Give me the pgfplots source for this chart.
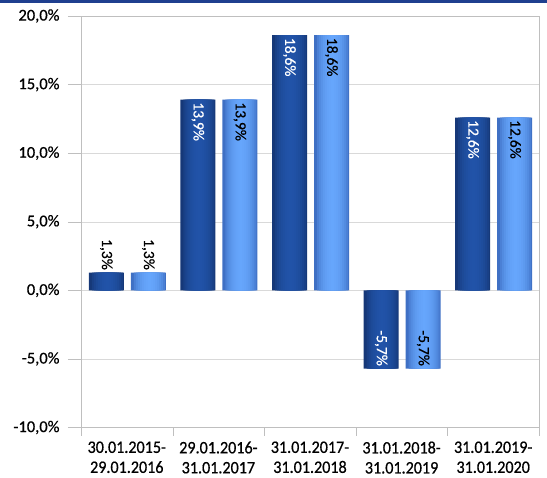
\documentclass[border=0pt]{standalone}
\usepackage{pgfplots}
\pgfplotsset{compat=1.18}
\usepackage{fontspec}
\setmainfont{Carlito}
\font\ylabfont="Carlito:embolden=0.6" at 16.5bp
\font\xlabfont="Carlito:embolden=0.6;extend=0.92" at 17.5bp
\font\dlabfont="Carlito:embolden=0.6" at 15.5bp
\definecolor{band}{HTML}{1F3F8F}
\definecolor{dEdge}{HTML}{163878}
\definecolor{dMid}{HTML}{2153A8}
\definecolor{lEdge}{HTML}{3F70C4}
\definecolor{lMid}{HTML}{66A6FC}
\definecolor{gridc}{HTML}{D9D9D9}
\definecolor{axc}{HTML}{BFBFBF}

\pgfplotsset{
  lay/.style={ybar, draw=none},
  lab/.style n args={3}{draw=none, mark=none,
    nodes near coords={\pgfmathprintnumber[fixed,fixed zerofill,precision=1,use comma]{\pgfplotspointmeta}\%},
    every node near coord/.append style={xshift=#1, rotate=-90, anchor=#2, text=#3, inner sep=2.5bp, font=\dlabfont}},
}
% #1 edge colour, #2 centre colour, #3 shift (outer), #4 shift (inner), #5 coordinates
\newcommand\layers[5]{%
  \addplot[lay, bar shift=#3, bar width=35bp, fill=#1] coordinates {#5};
  \addplot[lay, bar shift=#4, bar width=31bp, fill=#2!30!#1] coordinates {#5};
  \addplot[lay, bar shift=#4, bar width=27bp, fill=#2!50!#1] coordinates {#5};
  \addplot[lay, bar shift=#4, bar width=23bp, fill=#2!65!#1] coordinates {#5};
  \addplot[lay, bar shift=#4, bar width=19bp, fill=#2!77!#1] coordinates {#5};
  \addplot[lay, bar shift=#4, bar width=15bp, fill=#2!86!#1] coordinates {#5};
  \addplot[lay, bar shift=#4, bar width=11bp, fill=#2!93!#1] coordinates {#5};
  \addplot[lay, bar shift=#4, bar width=7bp, fill=#2!97!#1] coordinates {#5};
  \addplot[lay, bar shift=#4, bar width=3bp, fill=#2] coordinates {#5};
}

\begin{document}
\begin{tikzpicture}
\path[use as bounding box] (-81bp,-50.5bp) rectangle (466bp,427.5bp);
\fill[band] (-81bp,424.5bp) rectangle (466bp,427.5bp);
\begin{axis}[
  scale only axis,
  width=458bp, height=411.5bp,
  xmin=-0.5, xmax=4.5, ymin=-10, ymax=20,
  ytick={-10,-5,...,20},
  xtick={0,...,4},
  xticklabels={{30.01.2015-\\29.01.2016},{29.01.2016-\\31.01.2017},{31.01.2017-\\31.01.2018},{31.01.2018-\\31.01.2019},{31.01.2019-\\31.01.2020}},
  xticklabel style={align=center, yshift=2.5bp, font={\xlabfont\baselineskip=20bp}},
  major x tick style={draw=none},
  minor xtick={-0.5,0.5,...,4.5},
  minor x tick style={draw=axc},
  tick align=outside,
  tick pos=left,
  major tick length=13bp,
  minor tick length=8bp,
  ymajorgrids,
  grid style={draw=gridc},
  axis line style={draw=axc},
  tick style={draw=axc},
  /pgf/number format/assume math mode=true,
  yticklabel={\pgfmathprintnumber[fixed,fixed zerofill,precision=1,use comma]{\tick}\%},
  yticklabel style={xshift=-5bp, font=\ylabfont},
]
\layers{dEdge}{dMid}{-20.5bp}{-19.5bp}{(0,1.3) (1,13.9) (2,18.6) (3,-5.7) (4,12.6)}
\layers{lEdge}{lMid}{21.5bp}{22.5bp}{(0,1.3) (1,13.9) (2,18.6) (3,-5.7) (4,12.6)}
% data labels, series 1
\addplot[lab={-20.5bp}{east}{black}] coordinates {(0,1.3)};
\addplot[lab={-20.5bp}{west}{white}] coordinates {(1,13.9) (2,18.6) (4,12.6)};
\addplot[lab={-20.5bp}{east}{white}] coordinates {(3,-5.7)};
% data labels, series 2
\addplot[lab={21.5bp}{east}{black}] coordinates {(0,1.3) (3,-5.7)};
\addplot[lab={21.5bp}{west}{black}] coordinates {(1,13.9) (2,18.6) (4,12.6)};
\end{axis}
\end{tikzpicture}
\end{document}
